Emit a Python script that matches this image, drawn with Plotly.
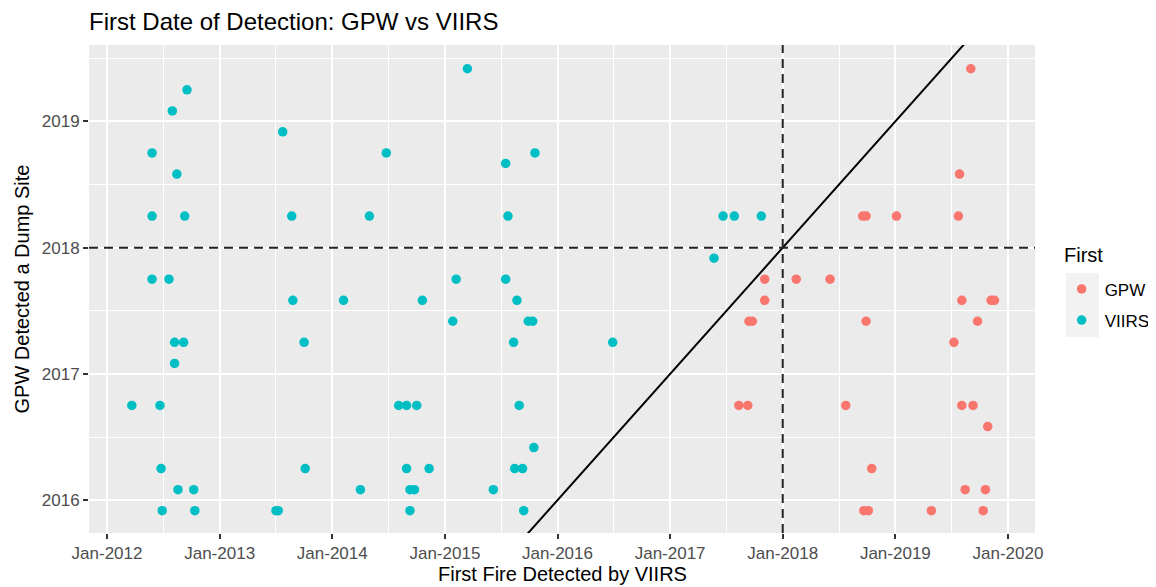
import plotly.graph_objects as go

# first fire detected by VIIRS (decimal year) vs GPW detection (decimal year)
viirs_first_x = [2012.71, 2012.58, 2013.56, 2012.40, 2014.48, 2012.62, 2012.40, 2012.69,
                 2013.64, 2014.33, 2012.40, 2012.55, 2013.65, 2014.10, 2012.60, 2012.68,
                 2013.75, 2012.60, 2012.22, 2012.47, 2014.59, 2014.66, 2014.75, 2012.48,
                 2013.76, 2014.66, 2014.86, 2012.63, 2012.77, 2014.25, 2014.69, 2014.73,
                 2012.49, 2012.78, 2013.50, 2013.52, 2014.69, 2015.20, 2015.80, 2015.54,
                 2015.56, 2017.39, 2015.10, 2015.54, 2014.80, 2015.64, 2015.07, 2015.74,
                 2015.78, 2015.61, 2016.49, 2015.66, 2015.79, 2015.62, 2015.69, 2015.43,
                 2015.70, 2017.47, 2017.57, 2017.81]
viirs_first_y = [2019.25, 2019.083, 2018.917, 2018.75, 2018.75, 2018.583, 2018.25, 2018.25,
                 2018.25, 2018.25, 2017.75, 2017.75, 2017.583, 2017.583, 2017.25, 2017.25,
                 2017.25, 2017.083, 2016.75, 2016.75, 2016.75, 2016.75, 2016.75, 2016.25,
                 2016.25, 2016.25, 2016.25, 2016.083, 2016.083, 2016.083, 2016.083, 2016.083,
                 2015.917, 2015.917, 2015.917, 2015.917, 2015.917, 2019.417, 2018.75, 2018.667,
                 2018.25, 2017.917, 2017.75, 2017.75, 2017.583, 2017.583, 2017.417, 2017.417,
                 2017.417, 2017.25, 2017.25, 2016.75, 2016.417, 2016.25, 2016.25, 2016.083,
                 2015.917, 2018.25, 2018.25, 2018.25]

gpw_first_x = [2019.67, 2019.57, 2018.71, 2018.74, 2019.01, 2019.56, 2017.84, 2018.12,
               2018.42, 2017.84, 2019.59, 2019.85, 2019.88, 2017.70, 2017.73, 2018.74,
               2019.73, 2019.52, 2017.61, 2017.69, 2018.56, 2019.59, 2019.69, 2019.82,
               2018.79, 2019.62, 2019.80, 2018.72, 2018.76, 2019.32, 2019.78]
gpw_first_y = [2019.417, 2018.583, 2018.25, 2018.25, 2018.25, 2018.25, 2017.75, 2017.75,
               2017.75, 2017.583, 2017.583, 2017.583, 2017.583, 2017.417, 2017.417, 2017.417,
               2017.417, 2017.25, 2016.75, 2016.75, 2016.75, 2016.75, 2016.75, 2016.583,
               2016.25, 2016.083, 2016.083, 2015.917, 2015.917, 2015.917, 2015.917]

x_years = [2012, 2013, 2014, 2015, 2016, 2017, 2018, 2019, 2020]
x_labels = ['Jan-%d' % yr for yr in x_years]
y_ticks = [2016, 2017, 2018, 2019]
cutoff = 2018

x_range = [2011.84, 2020.24]
y_range = [2015.74, 2019.605]

font = 'Liberation Sans, Arial, sans-serif'

fig = go.Figure()

# y = x reference line (clipped by the axes)
fig.add_trace(go.Scatter(x=[x_range[0], x_range[1]], y=[x_range[0], x_range[1]],
                         mode='lines', line=dict(color='black', width=2),
                         showlegend=False, hoverinfo='skip'))

fig.add_trace(go.Scatter(x=gpw_first_x, y=gpw_first_y, mode='markers', name='GPW',
                         legendgroup='a',
                         marker=dict(color='#F8766D', size=9.5)))
fig.add_trace(go.Scatter(x=viirs_first_x, y=viirs_first_y, mode='markers', name='VIIRS',
                         legendgroup='b',
                         marker=dict(color='#00BFC4', size=9.5)))

fig.add_hline(y=cutoff, line=dict(color='#222222', width=2, dash='9px,6px'))
fig.add_vline(x=cutoff, line=dict(color='#222222', width=2, dash='9px,6px'))

# grey background behind the legend keys, like ggplot
fig.add_shape(type='rect', xref='paper', yref='paper',
              x0=1.0328, x1=1.0677, y0=0.4016, y1=0.5328,
              fillcolor='#F2F2F2', line=dict(width=0), layer='below')

# legend title placed by hand (ggplot leaves a larger gap above the keys)
fig.add_annotation(text='First', xref='paper', yref='paper', x=1.0285, y=(533 - 255) / 488,
                   xanchor='left', yanchor='middle', showarrow=False,
                   font=dict(size=20, color='black'))

# x axis title as an annotation so it sits a little lower than plotly's default
fig.add_annotation(text='First Fire Detected by VIIRS', xref='paper', yref='paper',
                   x=0.5, y=(533 - 574) / 488, xanchor='center', yanchor='middle',
                   showarrow=False, font=dict(size=20, color='black'))

# page body keeps its 8px margin, so the figure is a bit smaller than the window
fig.update_layout(
    width=1148, height=579,
    margin=dict(l=81, r=121, t=37, b=54, autoexpand=False),
    paper_bgcolor='white', plot_bgcolor='#EBEBEB',
    font=dict(family=font, color='black'),
    title=dict(text='First Date of Detection: GPW vs VIIRS',
               x=0, xref='paper', xanchor='left',
               y=1 - 14 / 579, yref='container', yanchor='middle',
               font=dict(size=24, color='black')),
    legend=dict(font=dict(size=17), x=1.025, xanchor='left', y=0.536, yanchor='top',
                traceorder='grouped', tracegroupgap=6, itemwidth=36,
                bgcolor='rgba(0,0,0,0)'),
    showlegend=True,
)

fig.update_xaxes(range=x_range, tickmode='array', tickvals=x_years, ticktext=x_labels,
                 automargin=False,
                 showgrid=True, gridcolor='white', gridwidth=2, zeroline=False,
                 ticks='outside', ticklen=5, tickwidth=1.5, tickcolor='#333333',
                 tickfont=dict(size=17, color='#4D4D4D'),
                 minor=dict(tickvals=[y + 0.5 for y in x_years], showgrid=True,
                            gridcolor='white', gridwidth=1, ticks=''))
fig.update_yaxes(range=y_range, tickmode='array', tickvals=y_ticks,
                 ticktext=[str(t) for t in y_ticks],
                 automargin=False,
                 showgrid=True, gridcolor='white', gridwidth=2, zeroline=False,
                 ticks='outside', ticklen=5, tickwidth=1.5, tickcolor='#333333',
                 tickfont=dict(size=17, color='#4D4D4D'),
                 minor=dict(tickvals=[y + 0.5 for y in y_ticks], showgrid=True,
                            gridcolor='white', gridwidth=1, ticks=''),
                 title=dict(text='GPW Detected a Dump Site', font=dict(size=20), standoff=6))

fig.write_html('out.html')
